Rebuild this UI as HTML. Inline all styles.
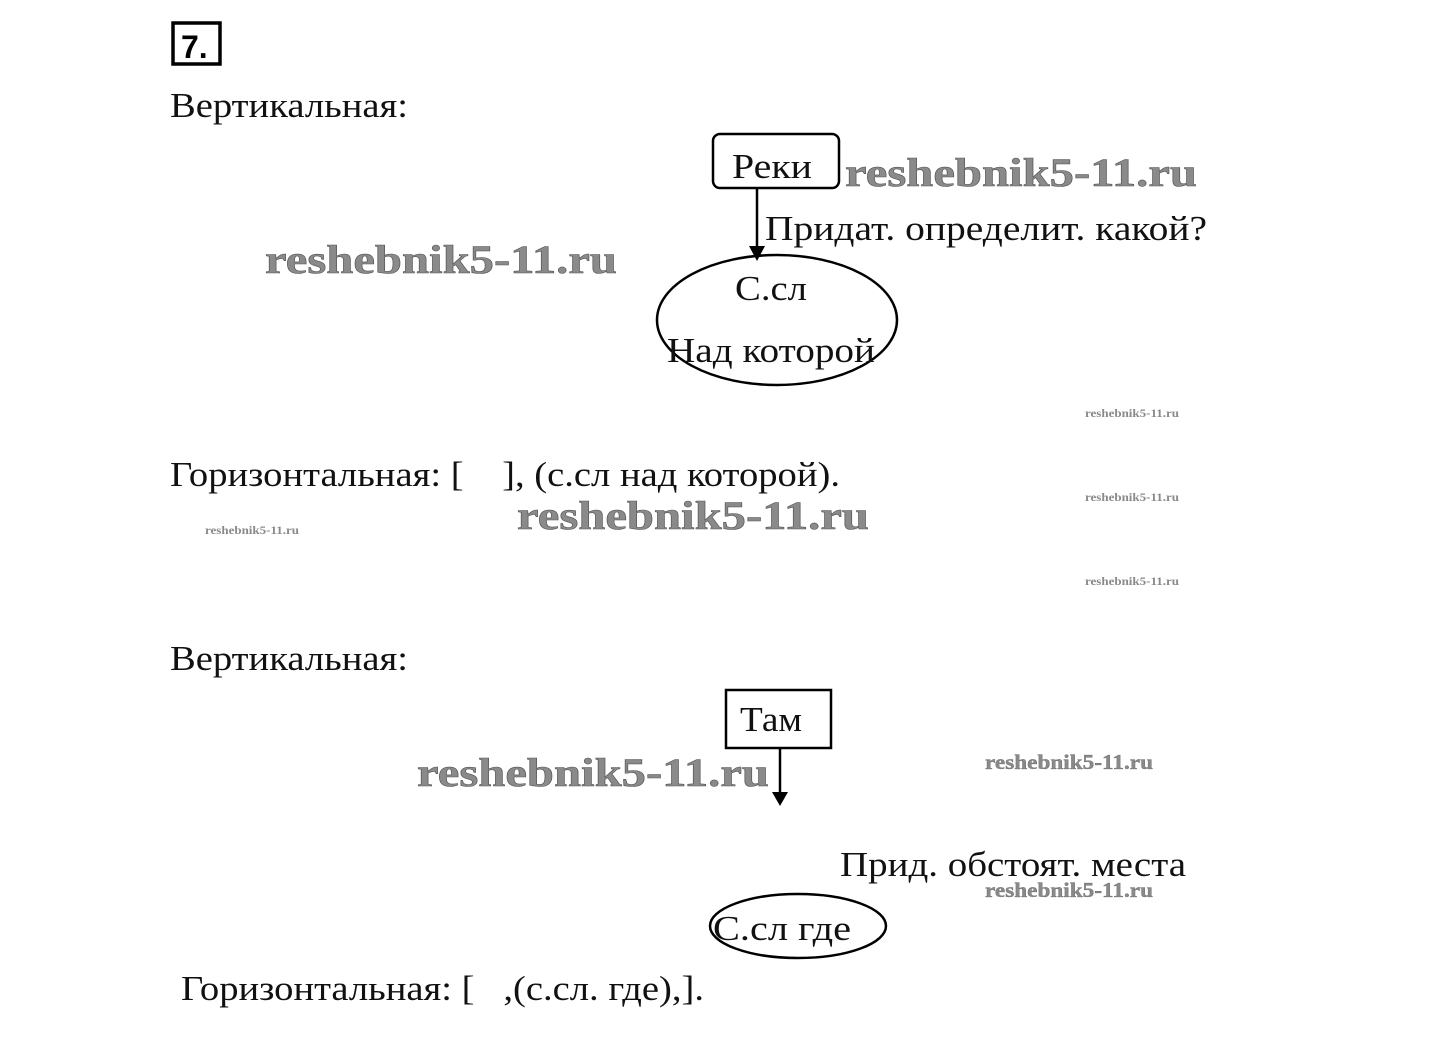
<!DOCTYPE html>
<html><head><meta charset="utf-8"><style>
html,body{margin:0;padding:0;background:#fff;}
svg{display:block;}
text{font-family:"Liberation Serif",serif;}
.t{font-size:35px;fill:#111;}
.w{font-family:"Liberation Serif",serif;font-weight:bold;fill:#8a8a8a;stroke:#555;stroke-width:0.6;}
</style></head><body>
<svg width="1448" height="1053" viewBox="0 0 1448 1053" xmlns="http://www.w3.org/2000/svg">
<rect x="173" y="23" width="47" height="41" fill="none" stroke="#000" stroke-width="3.5"/>
<text x="181" y="58" style="font-size:32px;font-weight:bold;font-family:'Liberation Sans',sans-serif" fill="#000">7.</text>

<text class="t" x="170" y="117" textLength="238" lengthAdjust="spacingAndGlyphs">Вертикальная:</text>

<rect x="713" y="134" width="126" height="54" rx="7" fill="none" stroke="#000" stroke-width="2.5"/>
<text class="t" x="732" y="178" textLength="80" lengthAdjust="spacingAndGlyphs">Реки</text>
<text class="w" x="845" y="186" style="font-size:40px" textLength="352" lengthAdjust="spacingAndGlyphs">reshebnik5-11.ru</text>
<line x1="757" y1="188" x2="757" y2="248" stroke="#000" stroke-width="2.5"/>
<polygon points="749,246 765,246 757,261" fill="#000"/>
<text class="t" x="765" y="240" textLength="442" lengthAdjust="spacingAndGlyphs">Придат. определит. какой?</text>
<text class="w" x="265" y="273" style="font-size:40px" textLength="352" lengthAdjust="spacingAndGlyphs">reshebnik5-11.ru</text>
<ellipse cx="777" cy="320" rx="120" ry="65" fill="none" stroke="#000" stroke-width="2.5"/>
<text class="t" x="735" y="300" textLength="72" lengthAdjust="spacingAndGlyphs">С.сл</text>
<text class="t" x="667" y="362" textLength="208" lengthAdjust="spacingAndGlyphs">Над которой</text>

<text class="w" x="1085" y="417" style="font-size:12px;stroke-width:0" textLength="94" lengthAdjust="spacingAndGlyphs">reshebnik5-11.ru</text>
<text class="w" x="1085" y="501" style="font-size:12px;stroke-width:0" textLength="94" lengthAdjust="spacingAndGlyphs">reshebnik5-11.ru</text>
<text class="w" x="1085" y="585" style="font-size:12px;stroke-width:0" textLength="94" lengthAdjust="spacingAndGlyphs">reshebnik5-11.ru</text>
<text class="w" x="205" y="534" style="font-size:12px;stroke-width:0" textLength="94" lengthAdjust="spacingAndGlyphs">reshebnik5-11.ru</text>

<text class="t" x="170" y="486" textLength="670" lengthAdjust="spacingAndGlyphs" fill="#333">Горизонтальная: [&#160;&#160;&#160;&#160;], (с.сл над которой).</text>
<text class="w" x="517" y="529" style="font-size:40px" textLength="352" lengthAdjust="spacingAndGlyphs">reshebnik5-11.ru</text>

<text class="t" x="170" y="670" textLength="238" lengthAdjust="spacingAndGlyphs">Вертикальная:</text>
<rect x="726" y="690" width="105" height="58" fill="none" stroke="#000" stroke-width="2.5"/>
<text class="t" x="740" y="731" textLength="62" lengthAdjust="spacingAndGlyphs">Там</text>
<line x1="780" y1="748" x2="780" y2="794" stroke="#000" stroke-width="2.5"/>
<polygon points="772,792 788,792 780,806" fill="#000"/>
<text class="w" x="417" y="786" style="font-size:40px" textLength="352" lengthAdjust="spacingAndGlyphs">reshebnik5-11.ru</text>
<text class="w" x="985" y="769" style="font-size:21px;stroke-width:0.3" textLength="168" lengthAdjust="spacingAndGlyphs">reshebnik5-11.ru</text>
<text class="t" x="840" y="876" textLength="346" lengthAdjust="spacingAndGlyphs">Прид. обстоят. места</text>
<text class="w" x="985" y="897" style="font-size:21px;stroke-width:0.3" textLength="168" lengthAdjust="spacingAndGlyphs">reshebnik5-11.ru</text>
<ellipse cx="798" cy="926" rx="88" ry="32" fill="none" stroke="#000" stroke-width="2.5"/>
<text class="t" x="713" y="940" textLength="138" lengthAdjust="spacingAndGlyphs">С.сл где</text>
<text class="t" x="181" y="1000" textLength="523" lengthAdjust="spacingAndGlyphs">Горизонтальная: [&#160;&#160;&#160;,(с.сл. где),].</text>
</svg>
</body></html>
